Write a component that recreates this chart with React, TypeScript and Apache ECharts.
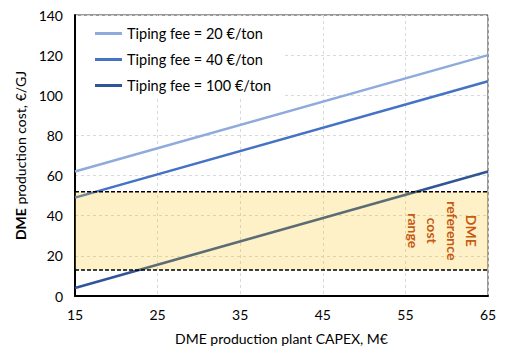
import React, { useEffect, useRef } from 'react';
import * as echarts from 'echarts';

const capex = [15, 65];
const fee20 = [62, 120];
const fee40 = [49, 107];
const fee100 = [4, 62];
const seriesNames = ['Tiping fee = 20 €/ton', 'Tiping fee = 40 €/ton', 'Tiping fee = 100 €/ton'];
const seriesColors = ['#8faadc', '#4472c4', '#2f5597'];
const refRange = [13, 52];
const bandLabel = 'DME\nreference\ncost\nrange';

const FONT = 'Lato, "Noto Sans", sans-serif';

export default function App() {
  const ref = useRef<HTMLDivElement>(null);
  useEffect(() => {
    if (!ref.current) return;
    const chart = echarts.init(ref.current, undefined, { renderer: 'svg' });
    const values = [fee20, fee40, fee100];
    const lineSeries = values.map((vals, i) => ({
      name: seriesNames[i],
      type: 'line',
      data: capex.map((x, j) => [x, vals[j]]),
      showSymbol: false,
      symbol: 'none',
      color: seriesColors[i],
      lineStyle: { width: 2.5, color: seriesColors[i] },
      z: 2,
    }));
    chart.setOption({
      animation: false,
      textStyle: { fontFamily: FONT },
      grid: {
        left: 75, right: 23, top: 15, bottom: 68,
        show: true, borderColor: '#333', borderWidth: 1, backgroundColor: 'transparent',
      },
      legend: {
        orient: 'vertical',
        left: 76, top: 16,
        padding: [10, 13, 6, 19],
        backgroundColor: '#fff',
        itemWidth: 27, itemHeight: 3, itemGap: 11, itemTextGap: 4,
        icon: 'rect',
        data: seriesNames,
        textStyle: { fontSize: 14.5, color: '#000', fontFamily: FONT },
      },
      xAxis: {
        type: 'value', min: 15, max: 65, interval: 10,
        name: 'DME production plant CAPEX, M€',
        nameLocation: 'middle', nameGap: 35,
        nameTextStyle: { fontSize: 14, color: '#000', fontFamily: FONT },
        axisLine: { show: true, onZero: false, lineStyle: { color: '#000', width: 2 } },
        axisTick: { show: false },
        axisLabel: { fontSize: 14, color: '#000', margin: 11, fontFamily: FONT },
        splitLine: { show: true, lineStyle: { color: '#d9d9d9', type: [3, 3], width: 1 } },
      },
      yAxis: {
        type: 'value', min: 0, max: 140, interval: 20,
        name: '{b|DME} production cost, €/GJ',
        nameLocation: 'middle', nameGap: 34,
        nameTextStyle: {
          fontSize: 14, color: '#000', fontFamily: FONT,
          rich: { b: { fontSize: 14, fontWeight: 'bold', color: '#000', fontFamily: FONT } },
        },
        axisLine: { show: true, lineStyle: { color: '#000', width: 2 } },
        axisTick: { show: false },
        axisLabel: { fontSize: 14, color: '#000', margin: 12, fontFamily: FONT },
        splitLine: { show: true, lineStyle: { color: '#d9d9d9', type: [3, 3], width: 1 } },
      },
      series: [
        ...lineSeries,
        {
          type: 'custom',
          z: 5,
          silent: true,
          data: [refRange],
          encode: { x: -1, y: [0, 1] },
          renderItem: (params: any, api: any) => {
            const lo = api.value(0);
            const hi = api.value(1);
            const p1 = api.coord([capex[0], hi]);
            const p2 = api.coord([capex[capex.length - 1], lo]);
            const mid = api.coord([59.5, (lo + hi) / 2]);
            const dash = { stroke: '#000', lineWidth: 1.5, lineDash: [4, 2] };
            return {
              type: 'group',
              children: [
                {
                  type: 'rect',
                  shape: { x: p1[0], y: p1[1], width: p2[0] - p1[0], height: p2[1] - p1[1] },
                  style: { fill: 'rgba(255,192,0,0.22)' },
                },
                { type: 'line', shape: { x1: p1[0], y1: p1[1], x2: p2[0], y2: p1[1] }, style: dash },
                { type: 'line', shape: { x1: p1[0], y1: p2[1], x2: p2[0], y2: p2[1] }, style: dash },
                {
                  type: 'text',
                  x: mid[0], y: mid[1], rotation: -Math.PI / 2,
                  style: {
                    text: bandLabel, fill: '#c55a11', fontSize: 14, fontWeight: 'bold',
                    fontFamily: FONT, align: 'center', verticalAlign: 'middle', lineHeight: 19.5,
                  },
                },
              ],
            };
          },
        },
      ],
    });
    return () => chart.dispose();
  }, []);
  return <div ref={ref} style={{ width: 511, height: 364, position: 'absolute', left: 0, top: 0 }} />;
}
